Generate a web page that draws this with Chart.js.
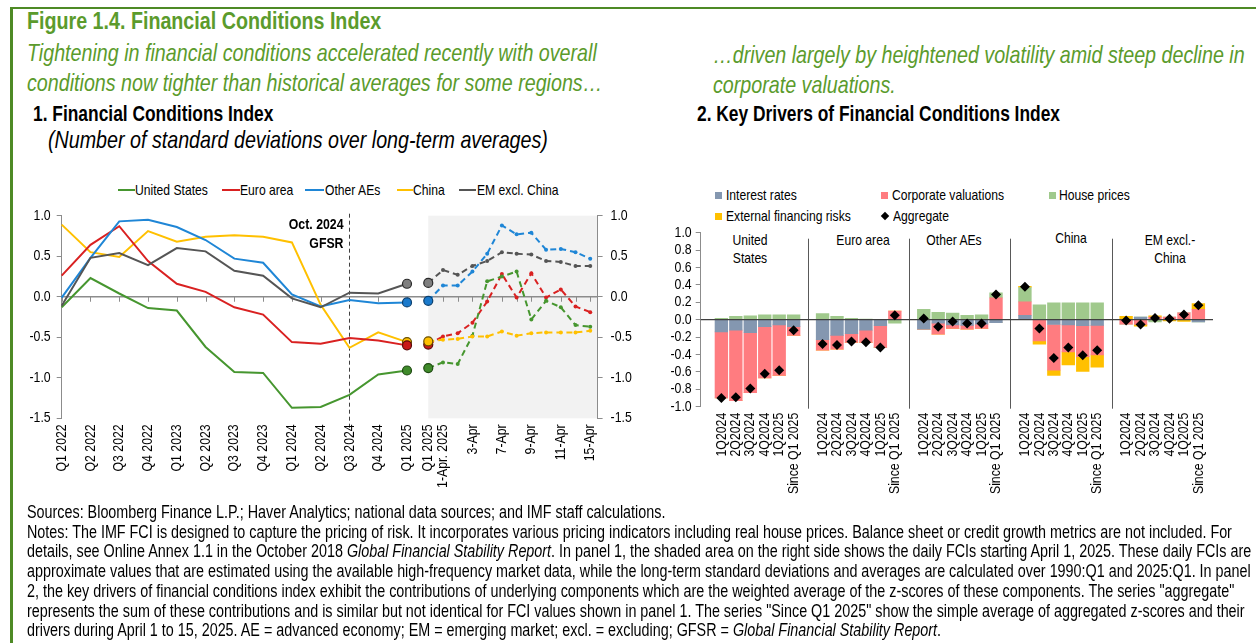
<!DOCTYPE html>
<html><head><meta charset="utf-8">
<script src="https://cdn.jsdelivr.net/npm/chart.js@4.4.0/dist/chart.umd.min.js"></script>
<style>
html,body{margin:0;padding:0;background:#fff;}
body{width:1256px;height:643px;position:relative;overflow:hidden;font-family:"Liberation Sans",Arial,sans-serif;color:#000;}
.a{position:absolute;white-space:nowrap;transform:scaleX(0.82);transform-origin:0 0;}
.c{transform:translateX(-50%) scaleX(0.82);transform-origin:50% 0;text-align:center;}
.green{color:#5b9b2c;}
canvas{position:absolute;}
.sw{position:absolute;height:2px;}
.sq{position:absolute;width:7px;height:7px;}
.lg{font-size:14.8px;line-height:18px;}
</style></head>
<body>
<div style="position:absolute;left:10px;top:7px;width:1246px;height:2px;background:#4e8a25;z-index:5"></div>
<div style="position:absolute;left:10px;top:7px;width:2.5px;height:636px;background:#4e8a25;z-index:5"></div>

<div class="a green" style="left:27px;top:8px;font-weight:bold;font-size:24px;line-height:25px;">Figure 1.4. Financial Conditions Index</div>
<div class="a green" style="left:27px;top:38px;font-style:italic;font-size:24px;line-height:30px;">Tightening in financial conditions accelerated recently with overall<br>conditions now tighter than historical averages for some regions…</div>
<div class="a green" style="left:713px;top:40px;font-style:italic;font-size:24px;line-height:30px;">…driven largely by heightened volatility amid steep decline in<br>corporate valuations.</div>
<div class="a" style="left:33px;top:103px;font-weight:bold;font-size:21.2px;line-height:22px;">1. Financial Conditions Index</div>
<div class="a" style="left:48px;top:127px;font-style:italic;font-size:24px;line-height:26px;">(Number of standard deviations over long-term averages)</div>
<div class="a" style="left:697px;top:103px;font-weight:bold;font-size:21.2px;line-height:22px;">2. Key Drivers of Financial Conditions Index</div>

<!-- panel 1 legend -->
<div class="sw" style="left:118px;top:189px;width:17px;background:#46962f"></div>
<div class="a lg" style="left:135px;top:181px;">United States</div>
<div class="sw" style="left:222px;top:189px;width:18px;background:#d92121"></div>
<div class="a lg" style="left:240px;top:181px;">Euro area</div>
<div class="sw" style="left:305px;top:189px;width:19px;background:#1f86d6"></div>
<div class="a lg" style="left:325px;top:181px;">Other AEs</div>
<div class="sw" style="left:397px;top:189px;width:16px;background:#ffc000"></div>
<div class="a lg" style="left:413px;top:181px;">China</div>
<div class="sw" style="left:459px;top:189px;width:17px;background:#555555"></div>
<div class="a lg" style="left:477px;top:181px;">EM excl. China</div>

<!-- panel 2 legend -->
<div class="sq" style="left:715px;top:192px;background:#8497b0"></div>
<div class="a lg" style="left:726px;top:186px;">Interest rates</div>
<div class="sq" style="left:881px;top:192px;background:#ff7c80"></div>
<div class="a lg" style="left:892px;top:186px;">Corporate valuations</div>
<div class="sq" style="left:1049px;top:192px;background:#a0c98c"></div>
<div class="a lg" style="left:1059px;top:186px;">House prices</div>
<div class="sq" style="left:715px;top:213px;background:#ffc000"></div>
<div class="a lg" style="left:726px;top:207px;">External financing risks</div>
<div class="sq" style="left:882px;top:213px;width:6px;height:6px;background:#000;transform:rotate(45deg)"></div>
<div class="a lg" style="left:893px;top:207px;">Aggregate</div>

<!-- panel 2 group labels -->
<div class="a c lg" style="left:750px;top:231px;">United<br>States</div>
<div class="a c lg" style="left:863px;top:231px;">Euro area</div>
<div class="a c lg" style="left:954px;top:231px;">Other AEs</div>
<div class="a c lg" style="left:1071px;top:229px;">China</div>
<div class="a c lg" style="left:1170px;top:231px;">EM excl.-<br>China</div>

<canvas id="c1" width="445" height="300" style="left:0;top:200px;width:445px;height:300px"></canvas>
<canvas id="c2" width="240" height="300" style="left:415px;top:200px;width:240px;height:300px"></canvas>
<canvas id="c3" width="616" height="330" style="left:640px;top:180px;width:616px;height:330px"></canvas>

<div class="a" style="left:27px;top:503px;font-size:17.5px;line-height:19.7px;">Sources: Bloomberg Finance L.P.; Haver Analytics; national data sources; and IMF staff calculations.<br>Notes: The IMF FCI is designed to capture the pricing of risk. It incorporates various pricing indicators including real house prices. Balance sheet or credit growth metrics are not included. For<br>details, see Online Annex 1.1 in the October 2018 <i>Global Financial Stability Report</i>. In panel 1, the shaded area on the right side shows the daily FCIs starting April 1, 2025. These daily FCIs are<br>approximate values that are estimated using the available high-frequency market data, while the long-term standard deviations and averages are calculated over 1990:Q1 and 2025:Q1. In panel<br>2, the key drivers of financial conditions index exhibit the contributions of underlying components which are the weighted average of the z-scores of these components. The series "aggregate"<br>represents the sum of these contributions and is similar but not identical for FCI values shown in panel 1. The series "Since Q1 2025" show the simple average of aggregated z-scores and their<br>drivers during April 1 to 15, 2025. AE = advanced economy; EM = emerging market; excl. = excluding; GFSR = <i>Global Financial Stability Report</i>.</div>

<script>
// ---------- Panel 1 data ----------
const quarters = ["Q1 2022","Q2 2022","Q3 2022","Q4 2022","Q1 2023","Q2 2023","Q3 2023","Q4 2023","Q1 2024","Q2 2024","Q3 2024","Q4 2024","Q1 2025"];
const usQ = [-0.13,0.23,0.04,-0.14,-0.17,-0.62,-0.93,-0.94,-1.37,-1.36,-1.21,-0.96,-0.91];
const euQ = [0.26,0.64,0.87,0.44,0.16,0.06,-0.13,-0.22,-0.56,-0.58,-0.51,-0.54,-0.60];
const aeQ = [-0.01,0.48,0.93,0.95,0.86,0.70,0.47,0.42,0.03,-0.12,-0.04,-0.08,-0.07];
const cnQ = [0.89,0.55,0.49,0.81,0.68,0.74,0.76,0.74,0.67,-0.10,-0.63,-0.44,-0.56];
const emQ = [-0.11,0.48,0.54,0.39,0.60,0.56,0.32,0.26,-0.02,-0.13,0.05,0.04,0.16];
const gfsrQuarter = "Q3 2024";

const days = ["Q1 2025","1-Apr. 2025","2-Apr","3-Apr","4-Apr","7-Apr","8-Apr","9-Apr","10-Apr","11-Apr","14-Apr","15-Apr"];
const usD = [-0.88,-0.81,-0.83,-0.48,0.19,0.25,0.31,-0.28,-0.05,-0.13,-0.35,-0.37];
const euD = [-0.59,-0.49,-0.45,-0.32,-0.06,0.28,-0.01,0.29,-0.01,0.09,-0.12,-0.19];
const aeD = [-0.05,0.14,0.14,0.31,0.53,0.88,0.77,0.79,0.58,0.59,0.55,0.47];
const cnD = [-0.55,-0.53,-0.52,-0.49,-0.49,-0.43,-0.48,-0.45,-0.44,-0.44,-0.44,-0.42];
const emD = [0.17,0.33,0.27,0.38,0.44,0.55,0.53,0.52,0.44,0.43,0.38,0.38];

// ---------- Panel 2 data ----------
const groups = ["United States","Euro area","Other AEs","China","EM excl.- China"];
const periods = ["1Q2024","2Q2024","3Q2024","4Q2024","1Q2025","Since Q1 2025"];
const interestRates = [
 -0.14,-0.12,-0.15,-0.08,-0.06,-0.08,
 -0.23,-0.18,-0.16,-0.12,-0.07,0.00,
 -0.11,-0.04,-0.06,-0.065,-0.05,-0.035,
 0.05,0.00,-0.055,-0.06,-0.07,-0.065,
 0.00,0.03,0.00,0.00,0.00,-0.025];
const corporateValuations = [
 -0.76,-0.81,-0.69,-0.59,-0.58,-0.10,
 -0.12,-0.16,-0.10,-0.14,-0.25,0.10,
 0.00,-0.125,-0.04,-0.045,-0.05,0.25,
 0.155,-0.245,-0.525,-0.31,-0.355,-0.34,
 -0.05,-0.055,0.03,0.03,0.08,0.12];
const housePrices = [
 0.015,0.04,0.045,0.055,0.055,0.055,
 0.07,0.04,0.015,0.005,0.00,-0.04,
 0.12,0.085,0.077,0.05,0.055,0.06,
 0.165,0.17,0.195,0.195,0.195,0.195,
 0.00,0.00,-0.025,0.00,0.00,0.00];
const externalFinancing = [
 0,0,0,0,0,0,
 0,0,0,0,0,0,
 0,0,0,0,0,0,
 0.015,-0.035,-0.06,-0.15,-0.17,-0.14,
 0.04,-0.02,0.015,-0.015,-0.02,0.065];
const aggregate = [
 -0.90,-0.89,-0.79,-0.62,-0.58,-0.12,
 -0.28,-0.29,-0.25,-0.26,-0.32,0.05,
 0.015,-0.08,-0.02,-0.045,-0.045,0.29,
 0.38,-0.10,-0.44,-0.32,-0.41,-0.35,
 -0.01,-0.055,0.02,0.01,0.06,0.165];

// ---------- common ----------
const FAM = '"Liberation Sans",Arial,sans-serif';
const SX = 0.82; // emulate Arial Narrow
Chart.defaults.font.family = FAM;
Chart.defaults.font.size = 15;
Chart.defaults.color = '#000';
const fmt1 = v => (Math.abs(v) < 1e-9 ? 0 : v).toFixed(1);
const AXIS = '#8c8c8c';

function narrowText(ctx, text, x, y, align, rotate){
  ctx.save(); ctx.translate(x, y);
  if (rotate) ctx.rotate(-Math.PI/2);
  ctx.scale(SX, 1);
  ctx.textAlign = align; ctx.textBaseline = 'middle';
  ctx.fillText(text, 0, 0); ctx.restore();
}
// draws the tick labels of every scale in a condensed face, at the scale's own tick pixels
function narrowTicks(cfg){
  return {
    id:'narrowTicks',
    afterDraw(chart){
      const ctx = chart.ctx;
      ctx.save(); ctx.fillStyle = '#000';
      Object.entries(cfg).forEach(([id, o])=>{
        const s = chart.scales[id];
        ctx.font = (o.size||15) + 'px ' + FAM;
        s.ticks.forEach((t,i)=>{
          const lab = t.label; if (lab === '' || lab == null) return;
          const p = s.getPixelForTick(i);
          if (s.isHorizontal()) narrowText(ctx, lab, p, s.top + o.pad, 'right', true);
          else if (s.position === 'left') narrowText(ctx, lab, s.right - o.pad, p, 'right', false);
          else narrowText(ctx, lab, s.left + o.pad, p, 'left', false);
        });
      });
      ctx.restore();
    }
  };
}

const COL = {
  us:{line:'#46962f', dark:'#1f4a12', fill:'#3f8a2a'},
  eu:{line:'#d92121', dark:'#5a0a0a', fill:'#c81818'},
  ae:{line:'#1f86d6', dark:'#0b3f6e', fill:'#1a7acc'},
  cn:{line:'#ffc000', dark:'#6b5000', fill:'#ffc000'},
  em:{line:'#555555', dark:'#2a2a2a', fill:'#7f7f7f'}
};

// ---------- Panel 1 (quarterly) ----------
const p1Left = {
  id:'p1left',
  beforeDatasetsDraw(chart){
    const {ctx, chartArea:a, scales:{x,y}} = chart;
    const y0 = y.getPixelForValue(0);
    ctx.save();
    ctx.strokeStyle = AXIS; ctx.lineWidth = 1.5;
    ctx.beginPath(); ctx.moveTo(a.left, y0); ctx.lineTo(chart.width, y0); ctx.stroke();
    ctx.lineWidth = 1; ctx.beginPath();
    quarters.forEach((q,i)=>{ const px = Math.round(x.getPixelForValue(i))+0.5; ctx.moveTo(px,y0); ctx.lineTo(px,y0+5); });
    ctx.stroke();
    const gx = Math.round(x.getPixelForValue(quarters.indexOf(gfsrQuarter)))+0.5;
    ctx.setLineDash([4,3]); ctx.strokeStyle = '#404040'; ctx.lineWidth = 1;
    ctx.beginPath(); ctx.moveTo(gx, a.top-2); ctx.lineTo(gx, a.bottom+10); ctx.stroke();
    ctx.setLineDash([]);
    ctx.fillStyle = '#000'; ctx.font = 'bold 15px ' + FAM;
    narrowText(ctx, 'Oct. 2024', gx-6, a.top+9, 'right', false);
    narrowText(ctx, 'GFSR', gx-6, a.top+28, 'right', false);
    ctx.restore();
  }
};
function qSet(data, c){
  const n = data.length;
  return {data, borderColor:c.line, borderWidth:2, tension:0, clip:false,
    pointRadius: ctx => ctx.dataIndex === n-1 ? 4.5 : 0,
    pointBackgroundColor:c.fill, pointBorderColor:c.dark, pointBorderWidth:1.2};
}
new Chart(document.getElementById('c1'), {
  type:'line',
  data:{labels:quarters, datasets:[qSet(emQ,COL.em), qSet(aeQ,COL.ae), qSet(euQ,COL.eu), qSet(cnQ,COL.cn), qSet(usQ,COL.us)]},
  options:{
    responsive:false, animation:false, devicePixelRatio:1,
    layout:{padding:{left:0,right:38,top:15.7,bottom:0}},
    plugins:{legend:{display:false}, tooltip:{enabled:false}},
    scales:{
      x:{type:'category', offset:false, grid:{display:false, drawTicks:false}, border:{display:false},
         ticks:{display:false, autoSkip:false},
         afterFit: s => { s.height = 81.7; }},
      y:{min:-1.5, max:1.0, ticks:{display:false, autoSkip:false, stepSize:0.5, callback:fmt1},
         grid:{drawOnChartArea:false, drawTicks:true, tickLength:5, color:AXIS},
         border:{display:true, color:AXIS},
         afterFit: s => { s.width = 61.7; }}
    }
  },
  plugins:[p1Left, narrowTicks({x:{pad:6}, y:{pad:11}})]
});

// ---------- Panel 1 (daily, shaded) ----------
const p1Right = {
  id:'p1right',
  beforeDraw(chart){
    const {ctx, chartArea:a, scales:{x}} = chart;
    ctx.save(); ctx.fillStyle = '#f2f2f2';
    const x0 = x.getPixelForValue(0);
    ctx.fillRect(x0, a.top, a.right - x0, a.bottom - a.top);
    ctx.restore();
  },
  beforeDatasetsDraw(chart){
    const {ctx, chartArea:a, scales:{x,y}} = chart;
    const y0 = y.getPixelForValue(0);
    ctx.save();
    ctx.strokeStyle = AXIS; ctx.lineWidth = 1.5;
    ctx.beginPath(); ctx.moveTo(a.left, y0); ctx.lineTo(a.right, y0); ctx.stroke();
    ctx.lineWidth = 1; ctx.beginPath();
    days.forEach((d,i)=>{ const px = Math.round(x.getPixelForValue(i))+0.5; ctx.moveTo(px,y0); ctx.lineTo(px,y0+5); });
    ctx.stroke();
    ctx.restore();
  }
};
function dSet(data, c){
  return {data, borderColor:c.line, borderWidth:2, borderDash:[6,4], tension:0, clip:false,
    pointRadius: ctx => ctx.dataIndex === 0 ? 4.5 : 2,
    pointBackgroundColor: ctx => ctx.dataIndex === 0 ? c.fill : c.line,
    pointBorderColor:c.dark,
    pointBorderWidth: ctx => ctx.dataIndex === 0 ? 1.2 : 0};
}
new Chart(document.getElementById('c2'), {
  type:'line',
  data:{labels:days, datasets:[dSet(emD,COL.em), dSet(aeD,COL.ae), dSet(cnD,COL.cn), dSet(usD,COL.us), dSet(euD,COL.eu)]},
  options:{
    responsive:false, animation:false, devicePixelRatio:1,
    layout:{padding:{left:5.9,right:0,top:15.7,bottom:0}},
    plugins:{legend:{display:false}, tooltip:{enabled:false}},
    scales:{
      x:{type:'category', offset:true, grid:{display:false, drawTicks:false}, border:{display:false},
         ticks:{display:false, autoSkip:false, callback:(v,i)=> (i===0 || i%2===1) ? days[i] : ''},
         afterFit: s => { s.height = 81.7; }},
      y:{position:'right', min:-1.5, max:1.0, ticks:{display:false, autoSkip:false, stepSize:0.5, callback:fmt1},
         grid:{drawOnChartArea:false, drawTicks:true, tickLength:5, color:AXIS},
         border:{display:true, color:AXIS},
         afterFit: s => { s.width = 57.4; }}
    }
  },
  plugins:[p1Right, narrowTicks({x:{pad:6}, y:{pad:13}})]
});

// ---------- Panel 2 ----------
const perGroup = periods.length, stride = perGroup + 1;
const slotOf = k => Math.floor(k/perGroup)*stride + (k % perGroup);
const slots = aggregate.map((v,k)=>slotOf(k));
const slotLabel = {}; slots.forEach((s,k)=> slotLabel[s] = periods[k % perGroup]);
const sepSlots = groups.slice(1).map((g,i)=> (i+1)*stride - 1);
const pts = arr => arr.map((v,k)=>({x:slotOf(k), y:v}));

const p2 = {
  id:'p2',
  beforeDatasetsDraw(chart){
    const {ctx, chartArea:a, scales:{x}} = chart;
    ctx.save(); ctx.strokeStyle = '#595959'; ctx.lineWidth = 1; ctx.beginPath();
    sepSlots.forEach(s=>{ const px = Math.round(x.getPixelForValue(s))+0.5; ctx.moveTo(px, a.top+6); ctx.lineTo(px, a.bottom+2); });
    ctx.stroke(); ctx.restore();
  },
  afterDatasetDraw(chart, args){
    if (args.index !== 0) return;
    const {ctx, chartArea:a, scales:{y}} = chart;
    const y0 = y.getPixelForValue(0);
    ctx.save(); ctx.strokeStyle = '#404040'; ctx.lineWidth = 1.2;
    ctx.beginPath(); ctx.moveTo(a.left, y0); ctx.lineTo(a.right, y0); ctx.stroke(); ctx.restore();
  }
};
const bar = (label, arr, color) => ({type:'bar', label, data:pts(arr), backgroundColor:color, borderWidth:0, barThickness:12.7, order:1});
new Chart(document.getElementById('c3'), {
  type:'bar',
  data:{datasets:[
    bar('Interest rates', interestRates, '#8497b0'),
    bar('Corporate valuations', corporateValuations, '#ff7c80'),
    bar('House prices', housePrices, '#a0c98c'),
    bar('External financing risks', externalFinancing, '#ffc000'),
    {type:'line', label:'Aggregate', data:pts(aggregate), showLine:false, stack:'agg', order:0,
     pointStyle:'rectRot', pointRadius:5, backgroundColor:'#000', borderColor:'#000', pointBorderWidth:0}
  ]},
  options:{
    responsive:false, animation:false, devicePixelRatio:1,
    layout:{padding:{left:0,right:43,top:52.7,bottom:0}},
    plugins:{legend:{display:false}, tooltip:{enabled:false}},
    scales:{
      x:{type:'linear', min:-0.84, max:33.42, stacked:true, grid:{display:false, drawTicks:false}, border:{display:false},
         afterBuildTicks: s => { s.ticks = slots.map(v=>({value:v})); },
         ticks:{display:false, autoSkip:false, callback: v => slotLabel[v] || ''},
         afterFit: s => { s.height = 103.3; }},
      y:{min:-1, max:1, stacked:true, ticks:{display:false, autoSkip:false, stepSize:0.2, callback:fmt1},
         grid:{drawOnChartArea:false, drawTicks:true, tickLength:5, color:AXIS},
         border:{display:true, color:AXIS},
         afterFit: s => { s.width = 60.7; }}
    }
  },
  plugins:[p2, narrowTicks({x:{pad:6}, y:{pad:9}})]
});
</script>
</body></html>
